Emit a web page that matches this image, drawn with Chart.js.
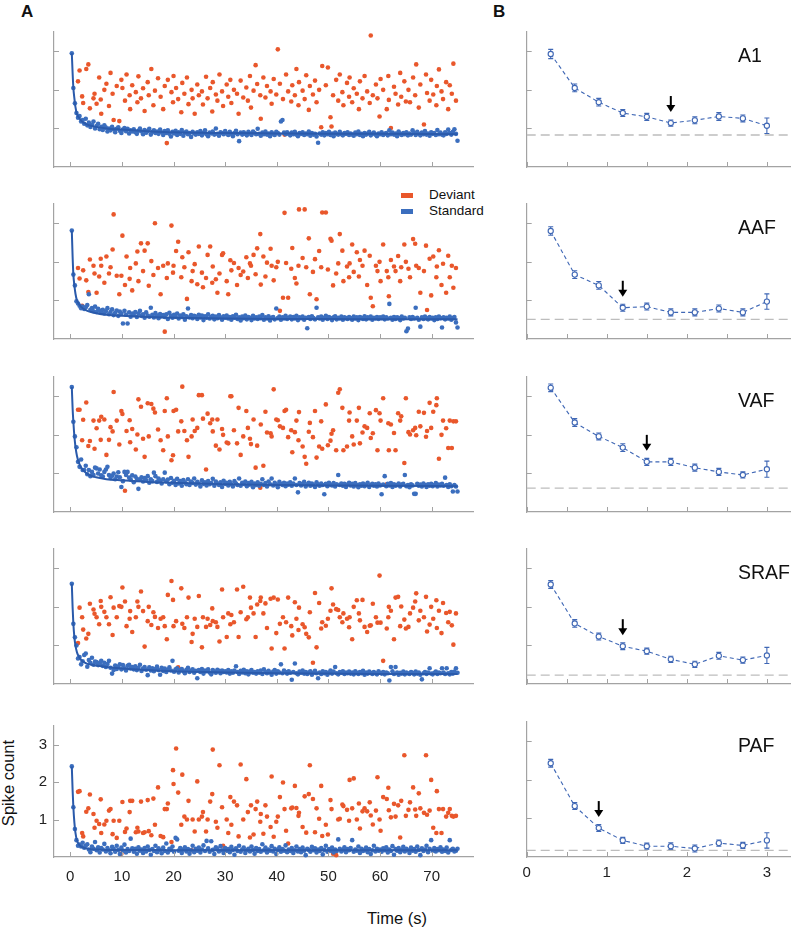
<!DOCTYPE html>
<html>
<head>
<meta charset="utf-8">
<script src="https://cdn.jsdelivr.net/npm/chart.js@4.4.1/dist/chart.umd.min.js"></script>
<style>
  body { margin: 0; background: #fff; font-family: "Liberation Sans", Arial, sans-serif; color: #111; }
  #fig { position: relative; width: 796px; height: 930px; overflow: hidden; }
  canvas { position: absolute; }
  .txt { position: absolute; white-space: nowrap; line-height: 1; }
  .key { position: absolute; width: 12px; height: 5px; }
</style>
</head>
<body>
<div id="fig">
  <div class="txt" style="left:21px;top:3px;font-size:17px;font-weight:bold;">A</div>
  <div class="txt" style="left:493px;top:3px;font-size:17px;font-weight:bold;">B</div>

  <div class="key" style="left:401px;top:193px;background:#e9572b;"></div>
  <div class="txt" style="left:429px;top:188px;font-size:13.5px;">Deviant</div>
  <div class="key" style="left:401px;top:209px;background:#3b6ebe;"></div>
  <div class="txt" style="left:429px;top:204px;font-size:13.5px;">Standard</div>

  <div class="txt" style="left:-42px;top:773px;width:100px;height:20px;line-height:20px;text-align:center;font-size:16.5px;transform:rotate(-90deg);">Spike count</div>
  <div class="txt" style="left:347px;top:910px;width:100px;text-align:center;font-size:16.5px;">Time (s)</div>
</div>

<script>
const areas = ["A1", "AAF", "VAF", "SRAF", "PAF"];
const panelTops = [32, 204, 377, 549, 722];

// standards every 0.3 s; deviants from 1.5 s, gaps in tenths of a second
const stdStep = 0.3;
const devStart = 1.5;
const devGaps = [
  3,5,2,6,4,3,7,2,4,5,3,1,6,4,5,3,4,2,6,5,
  4,2,5,3,6,1,4,7,3,2,5,4,3,6,2,5,4,3,6,5,
  5,3,4,2,7,3,1,5,4,6,2,4,5,3,6,2,4,5,3,6,
  2,6,3,5,4,1,6,3,4,5,2,7,3,4,2,5,6,3,4,5,
  6,3,4,2,5,4,3,6,1,5,4,3,7,2,4,5,3,4,6,3,
  3,4,6,2,5,3,4,1,7,4,3,5,2,6,4,3,5,4,2,7,
  4,5,2,3,6,4,3,5,2,7,4,1,5,3,6,4,2,5,4,5,
  5,2,4,6,3,4,2,5,7,3,1,4,6,3,5,4,2,6,3,5,
  3,6,4,2,5,3,7,4,2,5,3,4,6,1,4,5,3,6,4,3,
  4,3,5
];

// spike counts below are in hundredths of a spike
const stdA1 = [
  295,205,165,140,128,132,118,122,112,125,108,115,104,110,118,100,106,112,98,104,
  96,108,102,92,100,95,104,98,90,99,103,94,88,97,101,93,99,87,95,92,
  98,90,86,94,100,92,85,96,89,93,99,84,91,95,88,92,86,97,90,83,
  93,88,95,86,79,91,87,94,83,90,86,96,81,89,92,85,88,78,91,87,
  84,90,86,93,82,88,95,85,80,89,87,92,84,100,86,81,90,88,85,93,
  87,83,91,86,80,88,94,85,67,89,84,90,86,82,91,87,83,92,88,85,
  99,86,81,89,85,92,84,87,80,90,86,83,91,88,84,118,122,89,85,90,
  86,82,89,85,91,84,80,88,86,90,83,87,85,92,81,88,84,86,79,63,
  87,84,90,82,88,85,91,83,87,80,89,86,84,91,85,82,88,86,90,83,
  87,84,81,89,85,92,83,86,80,88,84,87,91,82,86,89,84,80,87,85,
  90,83,86,88,82,95,85,89,84,87,80,92,86,83,88,85,90,82,87,84,
  95,88,83,91,86,82,89,85,93,84,87,81,90,86,88,83,96,85,89,84,
  82,90,86,97,88,84,91,98,86,68
];
const devA1 = [
  222,250,183,166,254,266,152,178,190,164,232,175,138,200,216,158,244,190,122,210,
  119,226,205,172,240,186,150,212,194,168,235,178,204,145,220,186,254,160,198,230,
  182,150,210,62,226,194,168,236,205,176,142,218,190,232,163,200,178,138,214,186,
  196,162,234,178,205,144,220,188,172,240,196,158,214,182,226,166,200,190,138,224,
  180,206,172,236,154,198,264,215,186,125,232,180,210,196,164,228,188,305,216,176,
  84,240,196,170,212,186,254,160,220,198,176,238,148,210,188,224,168,200,103,262,
  212,258,129,105,186,226,172,240,194,160,218,182,232,168,204,190,150,222,178,236,
  196,166,341,186,214,178,131,228,200,150,236,174,101,208,190,162,244,182,222,170,
  200,168,232,186,266,154,214,110,240,192,172,226,188,160,210,253,196,176,220,150,
  212,190,268,172
];

const stdAAF = [
  281,167,139,98,92,86,80,84,78,82,88,116,76,80,72,84,70,78,74,68,
  76,66,72,80,64,70,77,62,68,74,60,71,66,40,73,63,40,69,58,66,
  62,70,57,66,73,60,64,55,69,61,58,81,63,56,67,60,54,65,59,62,
  57,64,52,68,60,55,63,58,66,53,61,57,64,50,59,79,56,62,54,60,
  58,52,63,56,61,49,59,55,64,53,57,60,51,58,54,62,56,50,59,55,
  61,53,57,50,59,55,63,52,56,48,58,54,61,51,57,55,49,60,53,56,
  52,58,54,62,50,56,53,59,48,55,57,51,79,54,58,50,56,53,60,52,
  55,58,51,57,53,60,49,56,54,58,50,55,28,57,52,59,54,51,81,56,
  53,58,50,55,60,52,57,54,49,56,59,51,55,53,58,50,56,54,52,57,
  54,50,58,53,56,49,57,55,52,59,51,56,54,58,50,55,53,57,52,56,
  54,58,51,56,53,91,55,50,57,52,56,54,49,58,53,55,20,27,56,52,
  57,53,81,55,50,32,56,52,58,54,51,57,53,55,49,56,52,58,54,30,
  56,51,55,53,58,50,54,57,43,30
];
const devAAF = [
  184,157,86,178,152,122,206,190,170,120,162,208,190,146,214,170,186,232,323,164,
  116,164,268,140,214,156,184,126,196,227,150,248,176,229,248,138,202,166,300,184,
  116,190,19,158,196,294,172,190,228,252,160,212,186,104,225,150,176,194,142,240,
  172,134,158,218,240,146,188,155,120,170,218,222,150,116,204,178,197,140,184,166,
  175,212,158,196,190,218,168,235,272,141,214,162,198,234,190,152,186,200,73,107,
  327,197,107,182,236,158,144,190,336,210,336,186,261,116,174,207,103,228,186,328,
  328,180,260,255,139,170,196,272,229,150,188,160,196,245,174,225,162,205,190,229,
  140,216,107,85,190,176,200,150,245,176,160,111,205,188,176,215,150,186,245,200,
  182,160,259,247,190,184,120,176,242,75,208,113,214,160,188,230,140,195,120,216,
  160,190,133,184
];

const stdVAF = [
  324,234,196,168,130,117,136,109,109,120,98,109,93,104,96,115,113,100,110,95,
  92,104,110,117,96,88,94,100,85,92,103,90,65,80,104,96,104,89,84,95,
  77,92,86,60,84,90,79,88,82,93,76,85,80,102,93,78,87,81,74,85,
  102,79,84,72,88,76,81,70,86,74,80,68,83,77,72,85,70,79,75,87,
  71,78,74,66,82,73,77,69,80,72,75,86,68,79,74,70,77,65,81,73,
  76,69,78,72,66,80,74,70,87,68,76,73,79,67,75,71,78,64,74,70,
  77,68,73,85,70,75,66,79,72,87,69,76,71,64,78,73,70,76,67,74,
  71,77,68,74,87,70,51,75,69,73,78,66,72,76,68,74,70,65,77,71,
  68,74,70,46,73,67,76,71,69,75,66,72,96,70,74,68,73,65,71,76,
  69,73,66,75,70,64,72,68,74,67,71,76,65,70,73,68,72,66,74,69,
  46,71,93,67,73,69,75,65,72,68,70,74,66,71,73,96,67,70,64,72,
  69,47,47,73,68,71,66,74,70,65,72,68,73,67,70,75,66,71,69,73,
  68,89,70,65,72,67,53,70,66,53
];
const devVAF = [
  265,265,186,239,284,171,184,237,164,217,237,187,247,240,148,187,220,209,311,237,
  175,262,254,55,210,238,181,215,162,201,292,273,190,143,282,196,280,268,258,214,
  186,160,262,295,196,134,147,262,265,209,235,325,210,186,143,196,240,210,218,303,
  303,242,110,255,230,240,209,172,240,162,215,200,180,178,300,300,212,178,270,148,
  196,262,218,190,176,240,115,172,63,227,120,260,206,204,196,318,240,238,222,218,
  262,265,194,212,155,207,237,186,259,170,143,125,208,231,194,262,141,170,235,164,
  279,173,185,203,212,160,309,318,270,160,170,237,258,196,175,237,270,178,206,222,
  218,256,192,204,264,160,256,237,295,72,230,160,227,205,160,256,237,248,127,295,
  207,201,212,218,199,260,222,257,195,210,283,218,260,277,295,138,200,237,217,166,
  237,166,235,235
];

const stdSRAF = [
  260,156,121,100,66,70,51,59,75,79,45,62,55,68,50,58,57,49,54,60,
  47,55,44,52,60,42,27,36,48,39,45,51,38,49,41,35,47,50,40,44,
  38,46,36,42,50,34,40,44,37,23,43,35,41,33,39,45,36,24,42,34,
  40,31,37,43,35,60,32,38,41,30,36,39,33,28,37,42,31,35,38,29,
  34,15,36,31,39,27,35,33,38,30,25,36,32,29,37,34,28,35,31,33,
  30,36,27,33,29,35,46,31,26,34,30,37,28,33,25,32,36,29,31,27,
  33,29,35,26,38,31,28,34,30,24,32,36,27,33,30,51,28,35,31,27,
  33,29,11,31,53,28,25,32,29,35,27,31,26,30,33,24,29,34,28,15,
  30,26,33,28,31,24,29,35,27,32,44,28,25,31,29,33,26,30,28,32,
  27,30,25,33,29,26,31,28,34,24,30,27,32,29,26,31,28,25,33,29,
  27,31,25,30,28,9,44,33,26,44,30,24,29,27,32,25,30,28,26,31,
  29,25,32,27,30,24,12,28,31,26,30,41,27,25,29,32,26,30,28,41,
  30,26,41,28,25,31,27,32,41,29
];
const devSRAF = [
  106,198,173,141,118,130,208,193,182,173,155,215,200,187,173,155,225,127,198,173,
  202,200,250,214,150,169,189,135,173,214,200,240,189,97,163,200,153,186,174,145,
  169,173,150,116,231,267,218,150,163,43,248,156,145,173,224,109,130,169,148,228,
  95,173,148,169,153,196,163,160,148,110,245,173,122,183,155,179,160,245,122,186,
  252,168,173,224,198,183,122,206,215,224,183,209,145,221,92,224,132,219,156,173,
  92,160,224,150,126,212,169,140,198,155,147,130,121,186,55,236,95,210,144,160,
  151,169,190,248,206,194,192,173,160,183,169,147,173,116,200,217,183,165,218,148,
  135,151,152,208,173,159,281,159,60,144,173,200,190,116,224,226,150,201,167,144,
  148,183,198,214,235,165,190,173,226,136,154,200,169,217,145,190,132,210,184,160,
  187,152,102,183
];

const stdPAF = [
  242,133,75,45,30,33,28,38,25,30,34,20,13,28,22,40,18,26,12,24,
  20,35,15,24,18,10,27,22,14,30,19,8,25,17,33,12,21,16,49,23,
  14,22,9,26,17,20,11,24,15,28,19,6,21,16,30,13,23,18,10,25,
  16,36,12,22,19,28,14,51,47,17,24,11,20,26,15,21,9,18,30,13,
  22,17,25,12,20,31,16,43,23,14,42,19,8,26,21,15,29,18,11,24,
  17,21,13,27,19,6,23,16,30,14,20,25,11,18,22,15,28,19,9,24,
  16,21,14,34,18,25,12,20,17,29,15,22,8,19,26,14,21,17,31,13,
  20,16,24,11,18,28,15,21,13,25,17,5,22,19,14,27,18,23,12,20,
  16,24,7,19,30,14,21,17,25,12,20,16,47,22,15,19,26,13,21,18,
  24,45,14,20,17,28,11,22,16,19,25,13,21,8,18,30,15,22,17,20,
  14,23,18,26,12,20,16,29,6,21,17,24,13,19,27,15,22,18,11,25,
  17,21,14,28,19,5,23,16,20,30,13,22,45,17,24,15,21,18,26,14,
  20,16,25,12,45,19,22,15,17,22
];
const devPAF = [
  174,176,64,55,121,130,167,115,78,97,88,154,64,87,97,124,128,61,97,51,
  97,9,147,67,76,120,150,150,66,78,68,148,64,66,152,69,58,156,86,186,
  56,53,128,128,143,40,232,195,290,172,86,220,108,100,150,18,100,68,202,100,
  108,120,68,100,148,168,287,94,78,245,133,30,100,64,160,86,148,138,55,247,
  100,208,120,52,138,60,128,148,94,115,62,138,108,80,215,54,94,108,160,199,
  128,70,36,130,132,190,131,110,118,80,162,65,168,245,155,66,130,102,190,56,
  86,60,152,128,9,5,100,102,140,136,126,97,206,130,210,100,143,76,122,130,
  122,146,111,87,124,213,100,70,160,155,185,125,106,142,108,138,52,150,272,110,
  126,146,186,127,110,170,130,118,272,113,124,206,78,64,176,128,64,128,108,118,
  128,110,108,110
];

// fitted decay of the standard response (hundredths)
const fitTimes = [0.3,0.45,0.6,0.8,1,1.3,1.7,2.2,3,4,5,7,10,15,20,30,40,50,60,75];
const fitA1   = [295,245,205,178,156,137,128,119,112,107,104,100,97,93,90,88,87,86,86,85];
const fitAAF  = [281,215,167,139,118,100,90,82,75,70,67,63,60,57,55,53,52,52,51,51];
const fitVAF  = [324,270,234,196,170,145,127,113,102,94,90,85,82,78,76,72,70,69,68,67];
const fitSRAF = [260,200,156,121,100,82,70,61,54,50,48,44,40,36,33,30,28,27,26,26];
const fitPAF  = [242,180,133,92,65,44,33,27,23,21,20,19,19,19,18,18,18,18,18,18];

// panel B: mean response vs inter-stimulus interval (s)
const isiSteps = [0.3,0.6,0.9,1.2,1.5,1.8,2.1,2.4,2.7,3.0];
const meanA1   = [2.93,2.05,1.68,1.40,1.30,1.14,1.21,1.31,1.26,1.07];
const meanAAF  = [2.80,1.67,1.39,0.81,0.84,0.69,0.69,0.79,0.69,0.97];
const meanVAF  = [3.22,2.32,1.96,1.67,1.30,1.30,1.15,1.04,0.96,1.11];
const meanSRAF = [2.58,1.57,1.23,0.98,0.85,0.64,0.51,0.73,0.62,0.74];
const meanPAF  = [2.43,1.32,0.75,0.43,0.28,0.28,0.22,0.36,0.30,0.43];
const errA1   = [0.12,0.10,0.10,0.09,0.09,0.08,0.09,0.10,0.09,0.20];
const errAAF  = [0.11,0.10,0.10,0.09,0.09,0.09,0.09,0.09,0.09,0.20];
const errVAF  = [0.10,0.10,0.09,0.10,0.09,0.09,0.09,0.09,0.08,0.21];
const errSRAF = [0.10,0.10,0.09,0.09,0.08,0.08,0.08,0.09,0.08,0.21];
const errPAF  = [0.10,0.09,0.09,0.08,0.08,0.09,0.09,0.08,0.08,0.20];
const baselines = [0.83, 0.51, 0.62, 0.23, 0.17];
const arrowAt = [1.8, 1.2, 1.5, 1.2, 0.9];

const timeTicks = [0,10,20,30,40,50,60,70];
const countTicks = [1,2,3];
const isiTicks = [0,0.5,1,1.5,2,2.5,3];

const stdSets = [stdA1, stdAAF, stdVAF, stdSRAF, stdPAF];
const devSets = [devA1, devAAF, devVAF, devSRAF, devPAF];
const fitSets = [fitA1, fitAAF, fitVAF, fitSRAF, fitPAF];
const meanSets = [meanA1, meanAAF, meanVAF, meanSRAF, meanPAF];
const errSets = [errA1, errAAF, errVAF, errSRAF, errPAF];

// deviant onset times from the gap list
const devTimes = [devStart];
devGaps.forEach(g => devTimes.push(devTimes[devTimes.length - 1] + g / 10));

const orange = "#e9572b";
const blue = "#3b6ebe";
const fitBlue = "#2a5aab";
const lineBlue = "#3f67b5";
const axisGray = "#a3a3a3";
const fontFamily = '"Liberation Sans", Arial, sans-serif';

const fig = document.getElementById("fig");

function makeCanvas(id, left, top, w, h) {
  const c = document.createElement("canvas");
  c.id = id;
  c.width = w;
  c.height = h;
  c.style.left = left + "px";
  c.style.top = top + "px";
  c.style.width = w + "px";
  c.style.height = h + "px";
  fig.appendChild(c);
  return c;
}

// short tick marks pointing into the plot
const inwardTicks = {
  id: "inwardTicks",
  afterDraw(chart) {
    const { ctx, chartArea, scales } = chart;
    ctx.save();
    ctx.strokeStyle = axisGray;
    ctx.lineWidth = 1;
    scales.x.ticks.forEach(t => {
      const p = Math.round(scales.x.getPixelForValue(t.value)) + 0.5;
      ctx.beginPath();
      ctx.moveTo(p, chartArea.bottom);
      ctx.lineTo(p, chartArea.bottom - 5);
      ctx.stroke();
    });
    scales.y.ticks.forEach(t => {
      const p = Math.round(scales.y.getPixelForValue(t.value)) + 0.5;
      ctx.beginPath();
      ctx.moveTo(chartArea.left, p);
      ctx.lineTo(chartArea.left + 5, p);
      ctx.stroke();
    });
    ctx.restore();
  }
};

function axisCommon(showLabels, pad) {
  return {
    grid: { display: true, drawOnChartArea: false, drawTicks: false },
    border: { display: true, color: axisGray, width: 1.2 },
    ticks: {
      display: showLabels, padding: pad, color: "#222",
      font: { size: 15, family: fontFamily }, maxRotation: 0, autoSkip: false
    }
  };
}

function leftChart(i) {
  const last = i === 4;
  const canvas = makeCanvas("L" + i, 0, panelTops[i] - 12, 480, 177);
  const x = axisCommon(last, 10.5);
  const y = axisCommon(last, 7);
  new Chart(canvas, {
    type: "scatter",
    data: {
      datasets: [
        {
          label: "Fit",
          data: fitTimes.map((t, k) => ({ x: t, y: fitSets[i][k] / 100 })),
          showLine: true, pointRadius: 0, borderColor: fitBlue, borderWidth: 2,
          cubicInterpolationMode: "monotone", order: 0, clip: false
        },
        {
          label: "Standard",
          data: stdSets[i].map((v, k) => ({ x: stdStep * (k + 1), y: v / 100 })),
          pointRadius: 2.3, backgroundColor: blue, borderWidth: 0, order: 1, clip: false
        },
        {
          label: "Deviant",
          data: devSets[i].map((v, k) => ({ x: devTimes[k], y: v / 100 })),
          pointRadius: 2.3, backgroundColor: orange, borderWidth: 0, order: 2, clip: false
        }
      ]
    },
    options: {
      responsive: false, animation: false, events: [],
      layout: { padding: { top: 12, right: 7, left: 0, bottom: 0 } },
      plugins: { legend: { display: false }, tooltip: { enabled: false } },
      scales: {
        x: Object.assign(x, {
          type: "linear", min: -3.15, max: 78,
          afterBuildTicks: s => { s.ticks = timeTicks.map(v => ({ value: v })); },
          afterFit: s => { s.height = 30; }
        }),
        y: Object.assign(y, {
          type: "linear", min: 0, max: 3.5,
          afterBuildTicks: s => { s.ticks = countTicks.map(v => ({ value: v })); },
          afterFit: s => { s.width = 54; }
        })
      }
    },
    plugins: [inwardTicks]
  });
}

function rightChart(i) {
  const last = i === 4;
  const canvas = makeCanvas("R" + i, 480, panelTops[i] - 12, 316, 177);
  const means = meanSets[i];
  const errs = errSets[i];
  const x = axisCommon(last, 6.5);
  const y = axisCommon(false, 7);
  x.ticks.callback = v => (Number.isInteger(v) ? v : "");
  new Chart(canvas, {
    type: "scatter",
    data: {
      datasets: [
        {
          label: areas[i],
          data: isiSteps.map((t, k) => ({ x: t, y: means[k] })),
          showLine: true, borderColor: lineBlue, borderWidth: 1.1, borderDash: [4, 3],
          pointRadius: 2.6, pointBorderWidth: 1.1, pointBorderColor: lineBlue,
          pointBackgroundColor: "#fff", order: 0, clip: false
        },
        {
          label: "baseline",
          data: [{ x: 0, y: baselines[i] }, { x: 3.3, y: baselines[i] }],
          showLine: true, borderColor: "#bdbdbd", borderWidth: 1.3, borderDash: [9, 5],
          pointRadius: 0, order: 1
        }
      ]
    },
    options: {
      responsive: false, animation: false, events: [],
      layout: { padding: { top: 12, right: 3, left: 0, bottom: 0 } },
      plugins: { legend: { display: false }, tooltip: { enabled: false } },
      scales: {
        x: Object.assign(x, {
          type: "linear", min: 0, max: 3.3,
          afterBuildTicks: s => { s.ticks = isiTicks.map(v => ({ value: v })); },
          afterFit: s => { s.height = 30; }
        }),
        y: Object.assign(y, {
          type: "linear", min: 0, max: 3.5,
          afterBuildTicks: s => { s.ticks = countTicks.map(v => ({ value: v })); },
          afterFit: s => { s.width = 46.7; }
        })
      }
    },
    plugins: [inwardTicks, {
      id: "errorBars",
      beforeDatasetsDraw(chart) {
        const { ctx, scales } = chart;
        ctx.save();
        ctx.strokeStyle = lineBlue;
        ctx.lineWidth = 1.1;
        isiSteps.forEach((t, k) => {
          const px = scales.x.getPixelForValue(t);
          const lo = scales.y.getPixelForValue(means[k] - errs[k]);
          const hi = scales.y.getPixelForValue(means[k] + errs[k]);
          ctx.beginPath();
          ctx.moveTo(px, lo); ctx.lineTo(px, hi);
          ctx.moveTo(px - 2.5, lo); ctx.lineTo(px + 2.5, lo);
          ctx.moveTo(px - 2.5, hi); ctx.lineTo(px + 2.5, hi);
          ctx.stroke();
        });
        ctx.restore();
      },
      afterDatasetsDraw(chart) {
        // arrow marking the shortest interval with a saturated response
        const { ctx, scales } = chart;
        const k = isiSteps.indexOf(arrowAt[i]);
        const px = scales.x.getPixelForValue(arrowAt[i]);
        const tip = scales.y.getPixelForValue(means[k]) - 11;
        ctx.save();
        ctx.strokeStyle = "#000";
        ctx.fillStyle = "#000";
        ctx.lineWidth = 2;
        ctx.beginPath();
        ctx.moveTo(px, tip - 16); ctx.lineTo(px, tip - 5);
        ctx.stroke();
        ctx.beginPath();
        ctx.moveTo(px - 4.5, tip - 7); ctx.lineTo(px + 4.5, tip - 7); ctx.lineTo(px, tip);
        ctx.closePath();
        ctx.fill();
        ctx.restore();
      }
    }]
  });

  const lbl = document.createElement("div");
  lbl.className = "txt";
  lbl.textContent = areas[i];
  lbl.style.left = "738px";
  lbl.style.top = (panelTops[i] + 13.5) + "px";
  lbl.style.fontSize = "19.5px";
  fig.appendChild(lbl);
}

areas.forEach((a, i) => {
  leftChart(i);
  rightChart(i);
});
</script>
</body>
</html>
